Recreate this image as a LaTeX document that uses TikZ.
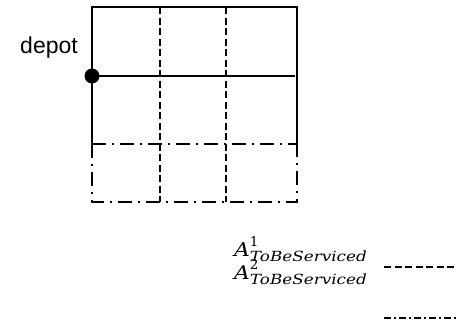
\documentclass[tikz,border=0pt]{standalone}
\usepackage{graphicx}
\usepackage{fontspec}
\newfontfamily\arial{Liberation Sans}
\newfontfamily\camb{DejaVu Serif}
\newcommand{\legtext}[1]{{\camb\itshape\scalebox{1.15}[1]{\fontsize{19}{20}\selectfont A}\rlap{\raisebox{10pt}{\upshape\fontsize{13.5}{14}\selectfont #1}}\raisebox{-5pt}{\scalebox{1.2}[1]{\fontsize{14}{15}\selectfont ToBeServiced}}}}
\begin{document}
\begin{tikzpicture}[x=1pt,y=-1pt,
  gridline/.style={line width=1.8pt},
  dashline/.style={line width=1.7pt,dash pattern=on 7pt off 3.5pt},
  dotdashline/.style={line width=1.7pt,dash pattern=on 14pt off 6pt on 2pt off 6pt},
  legdash/.style={line width=1.8pt,dash pattern=on 7pt off 3.5pt},
  legdotdash/.style={line width=1.8pt,dash pattern=on 7pt off 3pt on 2pt off 3pt},
  lbl/.style={inner sep=0pt,anchor=base west}]
\useasboundingbox (0,0) rectangle (456,324);
% corners
\coordinate (tl) at (92,7);
\coordinate (tr) at (297,7);
\coordinate (ml) at (92,76);
\coordinate (mr) at (295,76);
\coordinate (bl) at (92,144);
\coordinate (br) at (297,144);
\coordinate (ll) at (92,202);
\coordinate (lr) at (297,202);
\coordinate (v1t) at (160,7);
\coordinate (v1b) at (160,202);
\coordinate (v2t) at (226,7);
\coordinate (v2b) at (226,202);
% solid
\draw[gridline] (bl) -- (tl) -- (tr) -- (br);
\draw[gridline] (ml) -- (mr);
% dashed
\draw[dashline] (v1t) -- (v1b);
\draw[dashline] (v2t) -- (v2b);
% dash-dot
\draw[dotdashline] (bl) -- (br);
\draw[dotdashline] (bl) -- (ll) -- (lr) -- (br);
% depot
\node[circle,fill=black,inner sep=0pt,minimum size=15pt] (depot) at (ml) {};
\node[inner sep=0pt,anchor=base east,font=\arial\fontsize{23}{26}\selectfont] (depotlbl) at (78,53.3) {depot};
% legend
\node[lbl] (l1) at (234,256) {\legtext{1}};
\node[lbl] (l2) at (234,279.3) {\legtext{2}};
\coordinate (d1a) at (384,266.8);
\coordinate (d1b) at (456,266.8);
\coordinate (d2a) at (384,318.3);
\coordinate (d2b) at (456,318.3);
\draw[legdash] (d1a) -- (d1b);
\draw[legdotdash] (d2a) -- (d2b);
\end{tikzpicture}
\end{document}
